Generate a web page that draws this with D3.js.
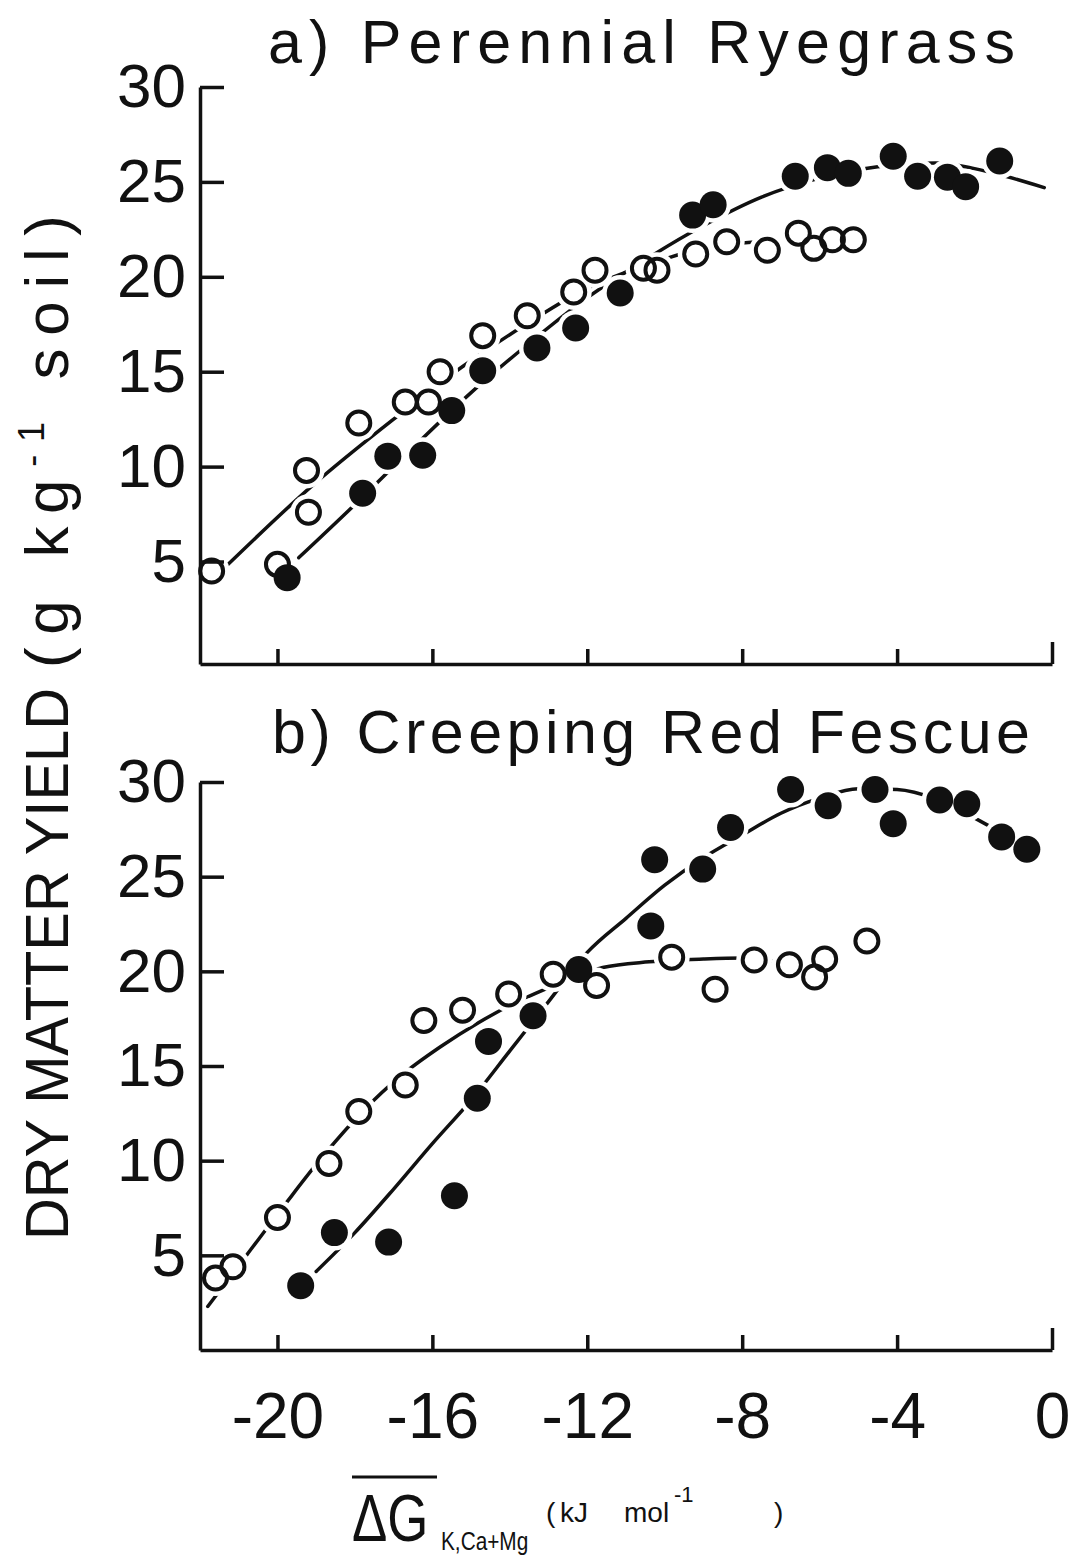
<!DOCTYPE html>
<html>
<head>
<meta charset="utf-8">
<script src="https://cdn.jsdelivr.net/npm/d3@7"></script>
<style>
  html, body { margin: 0; padding: 0; background: #fff; }
  svg { display: block; }
</style>
</head>
<body>
<svg id="chart" width="1084" height="1557"></svg>
<script>
// ---------- data ----------
const xTicks = [-20, -16, -12, -8, -4, 0];
const yTicks = [5, 10, 15, 20, 25, 30];

const titleA = "a) Perennial Ryegrass";
const titleB = "b) Creeping Red Fescue";

// Panel a: Perennial Ryegrass
const ryeOpenX = [-21.7, -20.0, -19.25, -19.2, -17.9, -16.7, -16.1, -15.8, -14.7, -13.55, -12.35, -11.8, -10.55, -10.2, -9.2, -8.4, -7.35, -6.55, -6.15, -5.67, -5.13];
const ryeOpenY = [4.5, 4.85, 9.8, 7.6, 12.3, 13.4, 13.4, 15.0, 16.9, 17.95, 19.2, 20.35, 20.45, 20.35, 21.2, 21.85, 21.4, 22.3, 21.5, 21.95, 21.95];
const ryeFilledX = [-19.75, -17.8, -17.15, -16.25, -15.5, -14.7, -13.3, -12.3, -11.15, -9.28, -8.75, -6.63, -5.8, -5.26, -4.1, -3.47, -2.7, -2.23, -1.35];
const ryeFilledY = [4.15, 8.6, 10.55, 10.6, 12.95, 15.05, 16.25, 17.3, 19.15, 23.25, 23.8, 25.3, 25.75, 25.45, 26.35, 25.3, 25.25, 24.75, 26.1];
const ryeOpenFitX = [-21.3, -19.1, -17.0, -15.2, -13.5, -12.0, -10.5, -9.0, -7.2];
const ryeOpenFitY = [4.8, 9.0, 12.5, 15.3, 17.6, 19.4, 20.6, 21.5, 21.9];
const ryeFilledFitX = [-19.45, -18.0, -16.5, -15.0, -13.5, -12.0, -10.5, -9.0, -7.5, -6.0, -4.5, -3.0, -2.0, -1.2, -0.2];
const ryeFilledFitY = [5.2, 8.0, 11.0, 13.9, 16.5, 18.9, 20.9, 22.7, 24.2, 25.2, 25.8, 26.0, 25.7, 25.3, 24.7];

// Panel b: Creeping Red Fescue
const fesOpenX = [-21.6, -21.15, -20.0, -18.67, -17.9, -16.7, -16.22, -15.22, -14.03, -12.88, -11.76, -9.82, -8.7, -7.69, -6.78, -6.13, -5.87, -4.78];
const fesOpenY = [3.8, 4.4, 7.0, 9.85, 12.6, 14.0, 17.4, 17.95, 18.8, 19.85, 19.25, 20.75, 19.05, 20.6, 20.35, 19.7, 20.65, 21.6];
const fesFilledX = [-19.4, -18.53, -17.13, -15.43, -14.84, -14.55, -13.4, -12.22, -10.36, -10.26, -9.02, -8.3, -6.75, -5.78, -4.57, -4.1, -2.9, -2.2, -1.3, -0.65];
const fesFilledY = [3.4, 6.2, 5.7, 8.15, 13.3, 16.3, 17.65, 20.1, 22.4, 25.9, 25.4, 27.6, 29.6, 28.75, 29.6, 27.8, 29.05, 28.85, 27.1, 26.45];
const fesOpenFitX = [-21.8, -20.8, -19.8, -18.8, -17.8, -16.8, -15.8, -14.8, -13.8, -12.8, -11.6, -10.4, -9.0, -8.0, -7.0, -6.2];
const fesOpenFitY = [2.3, 5.0, 7.7, 10.3, 12.6, 14.5, 16.0, 17.3, 18.4, 19.3, 20.2, 20.5, 20.65, 20.7, 20.45, 20.0];
const fesFilledFitX = [-19.0, -18.0, -17.0, -16.0, -15.0, -14.0, -13.0, -12.0, -11.0, -10.0, -9.0, -8.0, -7.0, -6.0, -5.0, -4.0, -3.0, -2.0, -1.0, -0.6];
const fesFilledFitY = [4.15, 6.2, 8.5, 10.9, 13.2, 15.8, 18.4, 21.0, 22.8, 24.55, 26.0, 27.2, 28.35, 29.15, 29.65, 29.6, 29.1, 28.1, 26.9, 26.3];

// ---------- drawing ----------
const svg = d3.select("#chart");
svg.append("rect").attr("width", 1084).attr("height", 1557).attr("fill", "#fff");

const FONT = "'Liberation Sans', Arial, sans-serif";
const INK = "#111";

const x = d3.scaleLinear().domain([-22, 0]).range([200, 1052]);

const panels = [
  { title: titleA, tx: 268, ty: 63, tlen: 747,
    y: d3.scaleLinear().domain([-0.4, 30]).range([664, 87]),
    openX: ryeOpenX, openY: ryeOpenY, fillX: ryeFilledX, fillY: ryeFilledY,
    oFitX: ryeOpenFitX, oFitY: ryeOpenFitY, fFitX: ryeFilledFitX, fFitY: ryeFilledFitY,
    labels: false },
  { title: titleB, tx: 272, ty: 753, tlen: 758,
    y: d3.scaleLinear().domain([0, 30]).range([1350, 782]),
    openX: fesOpenX, openY: fesOpenY, fillX: fesFilledX, fillY: fesFilledY,
    oFitX: fesOpenFitX, oFitY: fesOpenFitY, fFitX: fesFilledFitX, fFitY: fesFilledFitY,
    labels: true }
];

panels.forEach(p => {
  const g = svg.append("g");
  const y = p.y;

  // title
  g.append("text")
    .attr("x", p.tx).attr("y", p.ty)
    .attr("font-family", FONT).attr("font-size", 61)
    .attr("fill", INK)
    .attr("textLength", p.tlen).attr("lengthAdjust", "spacing")
    .text(p.title);

  const line = d3.line().x(d => x(d[0])).y(d => y(d[1])).curve(d3.curveMonotoneX);
  const oFit = p.oFitX.map((v, i) => [v, p.oFitY[i]]);
  const fFit = p.fFitX.map((v, i) => [v, p.fFitY[i]]);
  [oFit, fFit].forEach(pts => {
    g.append("path").attr("d", line(pts))
      .attr("fill", "none").attr("stroke", INK)
      .attr("stroke-width", 3.5).attr("stroke-linecap", "round");
  });

  const openPts = p.openX.map((v, i) => [v, p.openY[i]]);
  const fillPts = p.fillX.map((v, i) => [v, p.fillY[i]]);

  // knockouts (white halos) so lines break around symbols
  g.selectAll(null).data(openPts.concat(fillPts)).enter().append("circle")
    .attr("cx", d => x(d[0])).attr("cy", d => y(d[1]))
    .attr("r", 18).attr("fill", "#fff");

  g.selectAll(null).data(openPts).enter().append("circle")
    .attr("cx", d => x(d[0])).attr("cy", d => y(d[1]))
    .attr("r", 11.5).attr("fill", "none")
    .attr("stroke", INK).attr("stroke-width", 4);

  g.selectAll(null).data(fillPts).enter().append("circle")
    .attr("cx", d => x(d[0])).attr("cy", d => y(d[1]))
    .attr("r", 13.5).attr("fill", INK);

  // axes
  const yAxis = d3.axisLeft(y).tickValues(yTicks).tickFormat(d => String(d))
    .tickSizeInner(-24).tickSizeOuter(0).tickPadding(14);
  const ya = g.append("g").attr("transform", "translate(200,0)").call(yAxis);
  ya.attr("font-family", FONT).attr("font-size", 62);
  ya.selectAll("path, line").attr("stroke", INK).attr("stroke-width", 3.5);
  ya.selectAll("text").attr("fill", INK);

  const xAxis = d3.axisBottom(x).tickValues(xTicks)
    .tickFormat(d => p.labels ? String(d) : "")
    .tickSizeInner(-15).tickSizeOuter(0).tickPadding(43);
  const xa = g.append("g").attr("transform", `translate(0,${y.range()[0]})`).call(xAxis);
  xa.attr("font-family", FONT).attr("font-size", 64);
  xa.selectAll("path, line").attr("stroke", INK).attr("stroke-width", 3.5);
  xa.selectAll("text").attr("fill", INK);
  xa.selectAll(".tick").filter(d => d === 0).select("line").attr("y2", -22);
});

// y-axis title (rotated)
const yt = svg.append("g").attr("transform", "rotate(-90)")
  .attr("font-family", FONT).attr("font-size", 62).attr("fill", INK);
yt.append("text").attr("x", -1240).attr("y", 68)
  .attr("textLength", 552).attr("lengthAdjust", "spacingAndGlyphs")
  .text("DRY MATTER YIELD");
const yt2 = yt.append("text").attr("x", -668).attr("y", 68)
  .attr("textLength", 453).attr("lengthAdjust", "spacing");
yt2.append("tspan").text("(g kg");
yt2.append("tspan").attr("dy", -24).attr("font-size", 36).text("-1");
yt2.append("tspan").attr("dy", 24).text(" soil)");

// x-axis title
const xt = svg.append("g").attr("font-family", FONT).attr("fill", INK);
xt.append("g").attr("transform", "translate(352,1541) scale(0.8,1)")
  .append("text").attr("x", 0).attr("y", 0).attr("font-size", 66).text("ΔG");
xt.append("line").attr("x1", 352).attr("x2", 437).attr("y1", 1477).attr("y2", 1477)
  .attr("stroke", INK).attr("stroke-width", 3);
xt.append("g").attr("transform", "translate(441,1550) scale(0.8,1)")
  .append("text").attr("x", 0).attr("y", 0).attr("font-size", 26).text("K,Ca+Mg");
xt.append("text").attr("x", 546).attr("y", 1522).attr("font-size", 28).text("(");
xt.append("text").attr("x", 560).attr("y", 1522).attr("font-size", 28).text("kJ");
xt.append("text").attr("x", 624).attr("y", 1522).attr("font-size", 28).text("mol");
xt.append("text").attr("x", 674).attr("y", 1502).attr("font-size", 22).text("-1");
xt.append("text").attr("x", 774).attr("y", 1522).attr("font-size", 28).text(")");
</script>
</body>
</html>
